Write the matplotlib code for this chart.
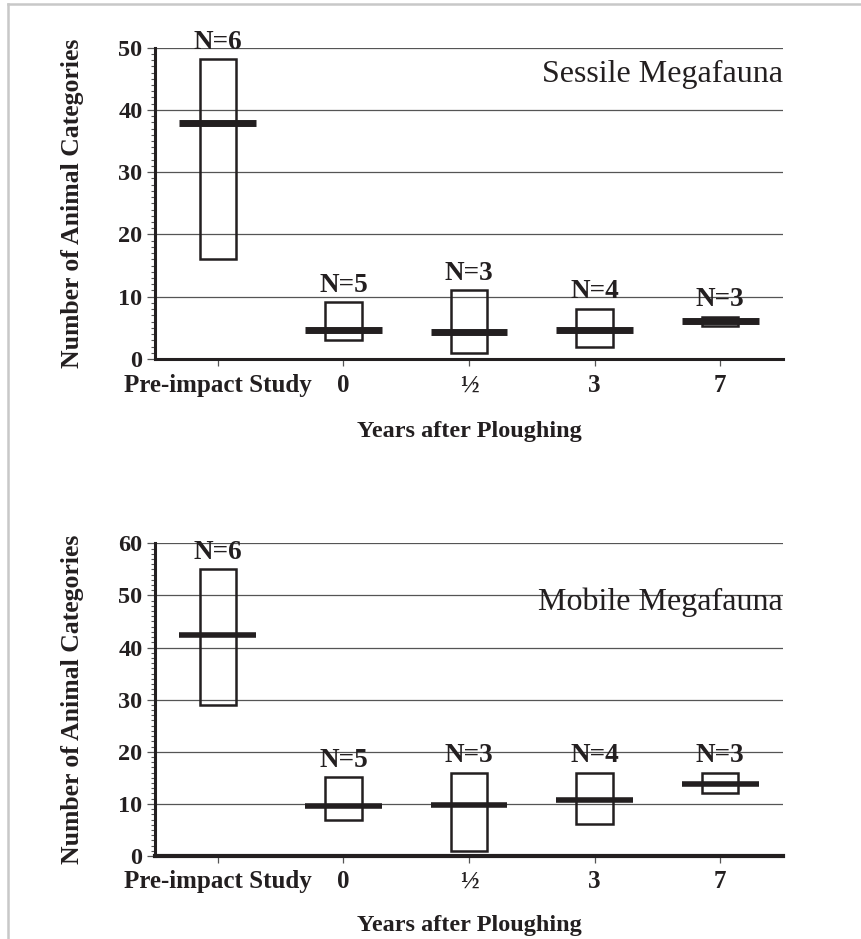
import numpy as np
import matplotlib.pyplot as plt
from matplotlib.patches import Rectangle
from matplotlib.lines import Line2D
from matplotlib.ticker import MultipleLocator

plt.rcParams['font.family'] = ['Liberation Serif', 'DejaVu Serif']

# survey periods along the x axis
periods = ['Pre-impact Study', '0', '½', '3', '7']
n_samples = [6, 5, 3, 4, 3]

# sessile megafauna: range of counts and mean per period
sessile_min = [16, 3, 1, 2, 5.3]
sessile_max = [48.2, 9.1, 11.1, 8.1, 6.8]
sessile_mean = [37.9, 4.7, 4.4, 4.7, 6.15]

# mobile megafauna
mobile_min = [29, 7, 1, 6.1, 12]
mobile_max = [55, 15.1, 16, 16, 16]
mobile_mean = [42.5, 9.5, 9.8, 10.8, 13.9]

ink = '#231f20'


def draw_panel(ax, lo, hi, mean, ymax, title, title_y, mean_lw, base_lw,
               tick_pad, xlab_pad):
    x = np.arange(len(periods))
    box_w = 0.29
    line_w = 0.61
    for xi, a, b in zip(x, lo, hi):
        ax.add_patch(Rectangle((xi - box_w / 2, a), box_w, b - a, fill=False,
                               edgecolor=ink, lw=1.8, zorder=3))
    ax.hlines(mean, x - line_w / 2, x + line_w / 2, color=ink, lw=mean_lw, zorder=4)
    for xi, b, n in zip(x, hi, n_samples):
        ax.annotate(f'N={n}', (xi, b), xytext=(0, 3), textcoords='offset points',
                    ha='center', va='bottom', fontsize=19.5, fontweight='bold',
                    color=ink, zorder=5, annotation_clip=False)

    ax.set_xlim(-0.5, len(periods) - 0.5)
    ax.set_ylim(0, ymax)
    ax.set_xticks(x)
    ax.set_xticklabels(periods, fontsize=18, fontweight='bold', color=ink)
    ax.yaxis.set_major_locator(MultipleLocator(10))
    ax.yaxis.set_minor_locator(MultipleLocator(1))
    for lab in ax.get_yticklabels():
        lab.set_fontsize(17.5)
        lab.set_fontweight('bold')
        lab.set_color(ink)
    ax.tick_params(axis='y', which='major', length=6, width=0.9, color='#555', pad=3)
    ax.tick_params(axis='y', which='minor', length=3, width=0.8, color='#555')
    ax.tick_params(axis='x', length=5, width=0.9, color='#555', pad=tick_pad)

    ax.grid(axis='y', which='major', color='#555', lw=0.9, zorder=1)
    ax.set_axisbelow(True)
    for side in ('top', 'right'):
        ax.spines[side].set_visible(False)
    ax.spines['left'].set_linewidth(2.2)
    ax.spines['left'].set_color(ink)
    ax.spines['bottom'].set_linewidth(base_lw)
    ax.spines['bottom'].set_color(ink)

    ax.set_ylabel('Number of Animal Categories', fontsize=18.5, fontweight='bold', color=ink)
    ax.yaxis.set_label_coords(-0.113, 0.5)
    ax.set_xlabel('Years after Ploughing', fontsize=17.5, fontweight='bold',
                  color=ink, labelpad=xlab_pad)
    ax.text(1.0, title_y, title, transform=ax.transAxes, ha='right', va='center',
            fontsize=23, color=ink)


fig = plt.figure(figsize=(8.62, 9.39), dpi=100)
ax_top = fig.add_axes([0.1798, 0.6177, 0.7286, 0.3316])
ax_bot = fig.add_axes([0.1798, 0.0884, 0.7286, 0.3330])

draw_panel(ax_top, sessile_min, sessile_max, sessile_mean, 50,
           'Sessile Megafauna', 0.913, 5, 2.2, 6, 17)
draw_panel(ax_bot, mobile_min, mobile_max, mobile_mean, 60,
           'Mobile Megafauna', 0.812, 4, 3.0, 5, 16)

# light frame along the top and left edge
fig.add_artist(Line2D([8 / 862, 1], [1 - 4 / 939, 1 - 4 / 939],
                      transform=fig.transFigure, color='#c8c8c8', lw=1.8))
fig.add_artist(Line2D([8 / 862, 8 / 862], [0, 1 - 4 / 939],
                      transform=fig.transFigure, color='#c8c8c8', lw=1.8))

fig.savefig('out.png', dpi=100)
